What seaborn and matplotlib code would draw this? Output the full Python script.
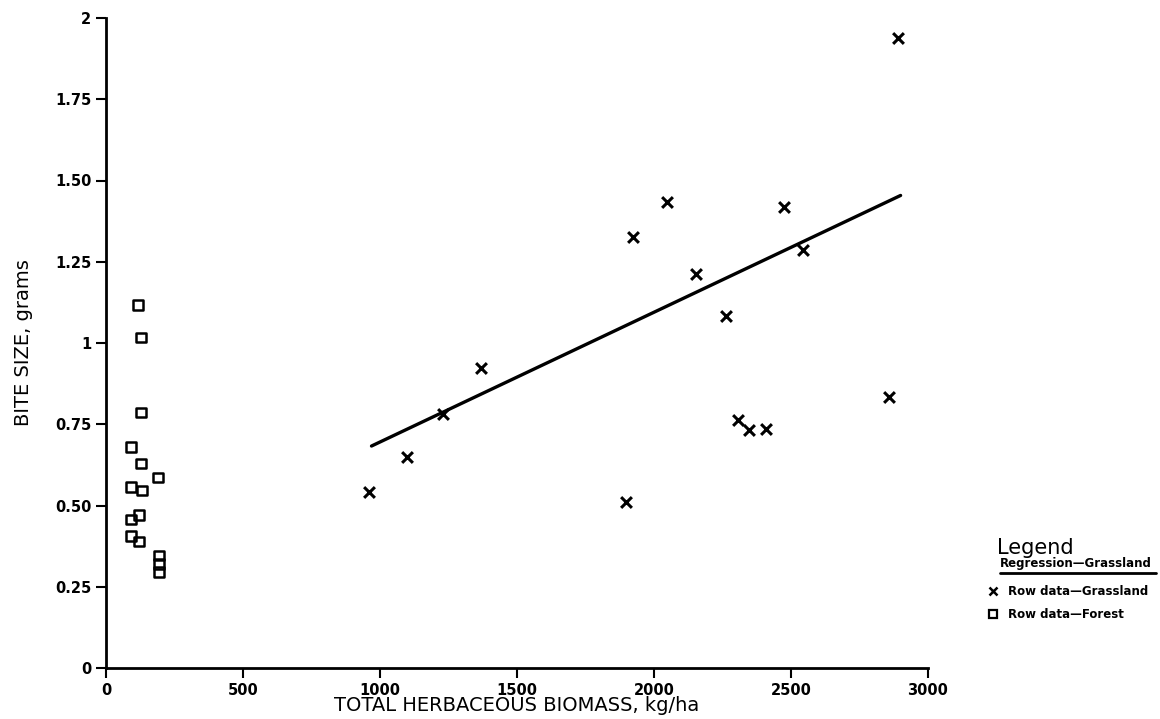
import matplotlib
matplotlib.use("Agg")
import matplotlib.pyplot as plt
from matplotlib.lines import Line2D
import seaborn as sns
import pandas as pd

# --- data ---
grass_biomass = [961, 1100, 1231, 1367, 1899, 1923, 2046, 2153, 2262, 2307,
                 2347, 2409, 2473, 2542, 2857, 2889]
grass_bite = [0.542, 0.649, 0.781, 0.922, 0.512, 1.325, 1.435, 1.213, 1.084,
              0.762, 0.733, 0.735, 1.420, 1.285, 0.833, 1.937]

forest_biomass = [117, 128, 128, 91, 128, 191, 92, 130, 120, 91, 92, 121,
                  193, 192, 192]
forest_bite = [1.118, 1.017, 0.786, 0.679, 0.629, 0.586, 0.556, 0.546, 0.471,
               0.457, 0.407, 0.389, 0.346, 0.320, 0.296]

reg_biomass = [969, 2900]
reg_bite = [0.683, 1.454]

x_ticks = [0, 500, 1000, 1500, 2000, 2500, 3000]
x_ticklabels = ["0", "500", "1000", "1500", "2000", "2500", "3000"]
y_ticks = [0, 0.25, 0.5, 0.75, 1, 1.25, 1.5, 1.75, 2]
y_ticklabels = ["0", "0.25", "0.50", "0.75", "1", "1.25", "1.50", "1.75", "2"]

grass = pd.DataFrame({"biomass": grass_biomass, "bite": grass_bite})
forest = pd.DataFrame({"biomass": forest_biomass, "bite": forest_bite})
reg = pd.DataFrame({"biomass": reg_biomass, "bite": reg_bite})

sns.set_style("ticks")
plt.rcParams["font.family"] = ["DejaVu Sans"]
plt.rcParams["text.color"] = "black"
plt.rcParams["axes.labelcolor"] = "black"

fig = plt.figure(figsize=(11.6, 7.19), dpi=100)
ax = fig.add_axes([106 / 1160, 1 - 668 / 719, 822 / 1160, 650 / 719])

sns.lineplot(data=reg, x="biomass", y="bite", ax=ax, color="black",
             linewidth=2.4, legend=False)
sns.scatterplot(data=grass, x="biomass", y="bite", ax=ax, marker="x",
                color="black", s=60, linewidth=2.2, legend=False)
sns.scatterplot(data=forest, x="biomass", y="bite", ax=ax, marker="s",
                facecolor="none", edgecolor="black", s=50, linewidth=1.8,
                legend=False)

ax.set_xlim(0, 3000)
ax.set_ylim(0, 2)
ax.set_xticks(x_ticks)
ax.set_xticklabels(x_ticklabels, fontsize=10.5, fontweight="bold")
ax.set_yticks(y_ticks)
ax.set_yticklabels(y_ticklabels, fontsize=10.5, fontweight="bold")
ax.tick_params(direction="out", length=7, width=1.5, colors="black",
               labelcolor="black")
for s in ["left", "bottom"]:
    ax.spines[s].set_linewidth(2)
    ax.spines[s].set_color("black")
sns.despine(ax=ax)

ax.set_xlabel("TOTAL HERBACEOUS BIOMASS, kg/ha", fontsize=14,
              color="black", labelpad=-1)
ax.set_ylabel("BITE SIZE, grams", fontsize=14, color="black", labelpad=16)

# --- legend (outside the axes, right side) ---
fig.text(997 / 1160, 1 - 548 / 719, "Legend", fontsize=15,
         va="center", ha="left", color="black")
fig.text(1000 / 1160, 1 - 564 / 719, "Regression\u2014Grassland", fontsize=8.5,
         fontweight="bold", va="center", ha="left", color="black")
fig.add_artist(Line2D([1000 / 1160, 1156 / 1160], [1 - 573 / 719, 1 - 573 / 719],
                      transform=fig.transFigure, color="black", linewidth=2))
handles = [
    Line2D([], [], linestyle="none", marker="x", color="black",
           markersize=6, markeredgewidth=1.8, label="Row data\u2014Grassland"),
    Line2D([], [], linestyle="none", marker="s", markerfacecolor="none",
           markeredgecolor="black", markersize=6, markeredgewidth=1.6,
           label="Row data\u2014Forest"),
]
leg = fig.legend(handles=handles, loc="upper left",
                 bbox_to_anchor=(982 / 1160, 1 - 580 / 719), frameon=False,
                 prop={"size": 8.5, "weight": "bold"}, handlelength=1.0,
                 handletextpad=0.8, labelspacing=0.9, borderaxespad=0)
for t in leg.get_texts():
    t.set_color("black")

fig.savefig("out.png", dpi=100, facecolor="white")
